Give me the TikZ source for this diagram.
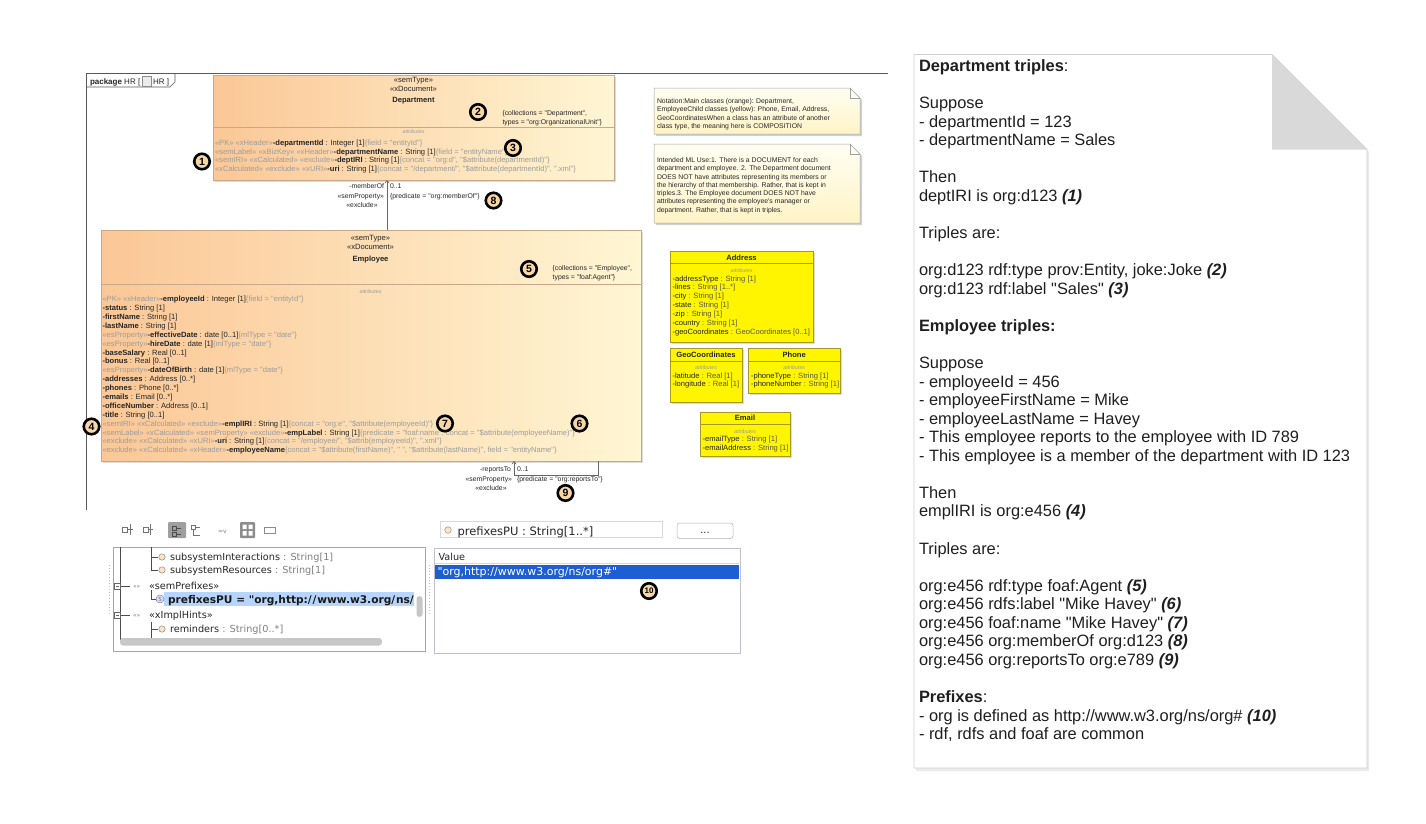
\documentclass[tikz,border=0pt]{standalone}
\usepackage{fontspec}
\setmainfont{Liberation Sans}[Ligatures=TeXOff]
\newfontfamily\uifont{DejaVu Sans}[Ligatures=TeXOff]
\usetikzlibrary{arrows.meta,shadows}
\definecolor{orgL}{HTML}{FBC796}
\definecolor{orgR}{HTML}{FFF6D4}
\definecolor{orgbd}{HTML}{C8A888}
\definecolor{stg}{HTML}{9C9C9C}
\definecolor{dk}{HTML}{262626}
\definecolor{tyc}{HTML}{5A5A40}
\definecolor{ylw}{HTML}{FFF500}
\definecolor{ylwb}{HTML}{A89A20}
\definecolor{noteT}{HTML}{FFFEF2}
\definecolor{noteB}{HTML}{FFF3C6}
\definecolor{notebd}{HTML}{A0A0A0}
\definecolor{numf}{HTML}{F7D7A8}
\definecolor{selblue}{HTML}{1D5ED3}
\definecolor{hlblue}{HTML}{B7D4FA}
\definecolor{pgbd}{HTML}{CFCFCF}
\definecolor{fold}{HTML}{D9D9D9}
\newcommand{\sg}[1]{\textcolor{stg}{#1}}
\newcommand{\nm}[1]{\textbf{#1}}
\newcommand{\ty}[1]{\textcolor{tyc}{#1}}
\newcommand{\bi}[1]{\textbf{\textit{#1}}}
\newcommand{\dsz}{\fontsize{6.85}{8.88}\selectfont}
\newcommand{\asz}{\fontsize{7.6}{8.88}\selectfont}
\newcommand{\rl}[3]{\node[rtext] (#1) at (919,{71.5+#2*18.56}) {#3};}
\begin{document}
\begin{tikzpicture}[x=1pt,y=-1pt,
  every node/.style={inner sep=0pt, outer sep=0pt},
  atext/.style={anchor=base west, font=\dsz, text=dk},
  altext/.style={anchor=base west, font=\asz, text=dk},
  ctext/.style={anchor=base, font=\dsz, text=dk},
  hctext/.style={anchor=base, font=\asz, text=dk},
  etext/.style={anchor=base east, font=\dsz, text=dk},
  attrlbl/.style={anchor=base, font=\fontsize{5.3}{6}\selectfont\itshape, text=stg},
  orgbox/.style={draw=orgbd, line width=0.5pt, left color=orgL, right color=orgR,
     drop shadow={shadow xshift=1.6pt, shadow yshift=-1.6pt, opacity=0.28}, anchor=north west},
  yelbox/.style={draw=ylwb, line width=0.5pt, fill=ylw,
     drop shadow={shadow xshift=1.6pt, shadow yshift=-1.6pt, opacity=0.28}, anchor=north west},
  divl/.style={draw=orgbd, line width=0.5pt},
  ydiv/.style={draw=ylwb, line width=0.5pt},
  frame/.style={draw=black!65, line width=0.6pt},
  assoc/.style={draw=black!60, line width=0.6pt},
  num/.style={circle, draw=black, line width=2.6pt, fill=numf, inner sep=0pt,
     minimum size=15.5pt, font=\fontsize{10.5}{10.5}\selectfont\bfseries},
  notest/.style={draw=notebd, line width=0.5pt, top color=noteT, bottom color=noteB},
  ntext/.style={anchor=base west, font=\fontsize{6.85}{8}\selectfont, text=dk},
  ytitle/.style={anchor=base, font=\fontsize{7.6}{8}\selectfont\bfseries, text=dk},
  ui/.style={anchor=base west, font=\uifont\fontsize{9.7}{11}\selectfont, text=black!85},
  uib/.style={anchor=base west, font=\uifont\bfseries\fontsize{10.6}{11}\selectfont, text=black!90},
  uig/.style={anchor=base west, font=\uifont\fontsize{6}{7}\selectfont, text=black!50},
  tree/.style={draw=black!70, line width=0.6pt},
  rtext/.style={anchor=base west, font=\fontsize{16.4}{18.56}\selectfont, text=black!88}
]
\useasboundingbox (0,0) rectangle (1426,823);
\fill[white] (0,0) rectangle (1426,823);

% ---------------- package frame
\draw[frame] (86,510) -- (86,73.5) -- (888,73.5);
\draw[frame] (86,87) -- (170,87) -- (175,82) -- (175,73.5);
\node[anchor=base west, font=\fontsize{8}{9}\selectfont, text=dk] (pk1) at (90,84) {\textbf{package} HR [};
\node[draw=black!45, fill=black!8, line width=0.4pt, minimum width=9.5pt, minimum height=9.5pt, anchor=west] (pkicon) at ([xshift=1.5pt,yshift=2.6pt]pk1.base east) {};
\node[anchor=base west, font=\fontsize{8}{9}\selectfont, text=dk] (pk2) at ([xshift=1.8pt]pkicon.east |- pk1.base) {HR ]};

% ---------------- Department
\node[orgbox, minimum width=401pt, minimum height=105pt] (dept) at (213,75) {};
\draw[divl] (213,127) -- (614,127);
\node[hctext] (d_s1) at (413.5,82.3) {«semType»};
\node[hctext] (d_s2) at (413.5,91.3) {«xDocument»};
\node[hctext, font=\fontsize{7.6}{8}\selectfont\bfseries] (d_nm) at (413.5,102) {Department};
\node[atext] (d_tv1) at (502.5,115.5) {\{collections = "Department",};
\node[atext] (d_tv2) at (502.5,124.2) {types = "org:OrganizationalUnit"\}};
\node[attrlbl] (d_al) at (413.5,133) {attributes};
\foreach \t [count=\i from 0] in {
 {\sg{«PK» «xHeader»}\nm{-departmentId} : Integer [1]\sg{\{field = "entityId"\}}},
 {\sg{«semLabel» «xBizKey» «xHeader»}\nm{-departmentName} : String [1]\sg{\{field = "entityName"\}}},
 {\sg{«semIRI» «xCalculated» «exclude»}\nm{-deptIRI} : String [1]\sg{\{concat = "org:d", "\$attribute(departmentId)"\}}},
 {\sg{«xCalculated» «exclude» «xURI»}\nm{-uri} : String [1]\sg{\{concat = "/department/", "\$attribute(departmentId)", ".xml"\}}}
}{
 \node[altext] (da\i) at (215,{145.3+\i*8.7}) {\t};
}

% ---------------- Employee
\node[orgbox, minimum width=540pt, minimum height=231pt] (emp) at (101,230) {};
\draw[divl] (101,284.5) -- (641,284.5);
\node[hctext] (e_s1) at (370.5,240.3) {«semType»};
\node[hctext] (e_s2) at (370.5,249.3) {«xDocument»};
\node[hctext, font=\fontsize{7.6}{8}\selectfont\bfseries] (e_nm) at (370.5,261) {Employee};
\node[atext] (e_tv1) at (552.7,270.5) {\{collections = "Employee",};
\node[atext] (e_tv2) at (552.7,279.5) {types = "foaf:Agent"\}};
\node[attrlbl] (e_al) at (370.5,293.5) {attributes};
\foreach \t [count=\i from 0] in {
 {\sg{«PK» «xHeader»}\nm{-employeeId} : Integer [1]\sg{\{field = "entityId"\}}},
 {\nm{-status} : String [1]},
 {\nm{-firstName} : String [1]},
 {\nm{-lastName} : String [1]},
 {\sg{«esProperty»}\nm{-effectiveDate} : date [0..1]\sg{\{mlType = "date"\}}},
 {\sg{«esProperty»}\nm{-hireDate} : date [1]\sg{\{mlType = "date"\}}},
 {\nm{-baseSalary} : Real [0..1]},
 {\nm{-bonus} : Real [0..1]},
 {\sg{«esProperty»}\nm{-dateOfBirth} : date [1]\sg{\{mlType = "date"\}}},
 {\nm{-addresses} : Address [0..*]},
 {\nm{-phones} : Phone [0..*]},
 {\nm{-emails} : Email [0..*]},
 {\nm{-officeNumber} : Address [0..1]},
 {\nm{-title} : String [0..1]},
 {\sg{«semIRI» «xCalculated» «exclude»}\nm{-emplIRI} : String [1]\sg{\{concat = "org:e", "\$attribute(employeeId)"\}}},
 {\sg{«semLabel» «xCalculated» «semProperty» «exclude»}\nm{-empLabel} : String [1]\sg{\{predicate = "foaf:name", concat = "\$attribute(employeeName)"\}}},
 {\sg{«exclude» «xCalculated» «xURI»}\nm{-uri} : String [1]\sg{\{concat = "/employee/", "\$attrib(employeeId)", ".xml"\}}},
 {\sg{«exclude» «xCalculated» «xHeader»}\nm{-employeeName}\sg{\{concat = "\$attribute(firstName)", " ", "\$attribute(lastName)", field = "entityName"\}}}
}{
 \node[altext] (ea\i) at (102.5,{301.8+\i*8.88}) {\t};
}

% ---------------- associations
\draw[assoc, -{Straight Barb[length=2.8pt,width=4.5pt]}] ([xshift=286pt]emp.north west) -- ([xshift=174pt]dept.south west);
\node[etext] (m_r) at (384,188) {-memberOf};
\node[atext] (m_m) at (390,188) {0..1};
\node[etext] (m_s) at (384,198.5) {«semProperty»};
\node[atext] (m_p) at (390,198.5) {\{predicate = "org:memberOf"\}};
\node[ctext] (m_e) at (362,207.5) {«exclude»};

\draw[assoc, -{Straight Barb[length=2.8pt,width=4.5pt]}] ([xshift=-43pt]emp.south east) -- ++(0,14.5) -| ([xshift=-127pt]emp.south east);
\node[etext] (r_r) at (511,471) {-reportsTo};
\node[atext] (r_m) at (517,471) {0..1};
\node[etext] (r_s) at (512,481.5) {«semProperty»};
\node[atext] (r_p) at (517,481.5) {\{predicate = "org:reportsTo"\}};
\node[ctext] (r_e) at (491,490) {«exclude»};

% ---------------- notes
\fill[black, opacity=0.18] (656,90) -- (852,90) -- (862,100) -- (862,136) -- (656,136) -- cycle;
\path[notest] (654,88) -- (850,88) -- (860,98) -- (860,134) -- (654,134) -- cycle;
\draw[draw=notebd, line width=0.5pt] (850,88) -- (850,98) -- (860,98);
\node[ntext] (n1a) at (657,103) {Notation:Main classes (orange): Department,};
\node[ntext] (n1b) at (657,111.6) {EmployeeChild classes (yellow): Phone, Email, Address,};
\node[ntext] (n1c) at (657,120.2) {GeoCoordinatesWhen a class has an attribute of another};
\node[ntext] (n1d) at (657,128.8) {class type, the meaning here is COMPOSITION};

\fill[black, opacity=0.18] (656,146) -- (852,146) -- (862,156) -- (862,225) -- (656,225) -- cycle;
\path[notest] (654,144) -- (850,144) -- (860,154) -- (860,223) -- (654,223) -- cycle;
\draw[draw=notebd, line width=0.5pt] (850,144) -- (850,154) -- (860,154);
\foreach \t [count=\i from 0] in {
 {Intended ML Use:1. There is a DOCUMENT for each},
 {department and employee. 2. The Department document},
 {DOES NOT have attributes representing its members or},
 {the hierarchy of that membership. Rather, that is kept in},
 {triples.3. The Employee document DOES NOT have},
 {attributes representing the employee's manager or},
 {department. Rather, that is kept in triples.}
}{
 \node[ntext] (n2\i) at (657,{162.5+\i*8.25}) {\t};
}

% ---------------- yellow classes
\node[yelbox, minimum width=143pt, minimum height=91pt] (addr) at (670,251) {};
\draw[ydiv] (670,263.5) -- (813,263.5);
\node[ytitle] (addr_t) at (741.5,260.2) {Address};
\node[attrlbl] (addr_al) at (741.5,272) {attributes};
\foreach \t [count=\i from 0] in {
 {-addressType \ty{: String [1]}},
 {-lines \ty{: String [1..*]}},
 {-city \ty{: String [1]}},
 {-state \ty{: String [1]}},
 {-zip \ty{: String [1]}},
 {-country \ty{: String [1]}},
 {-geoCoordinates \ty{: GeoCoordinates [0..1]}}
}{
 \node[altext] (aa\i) at (672.5,{281+\i*8.95}) {\t};
}

\node[yelbox, minimum width=72pt, minimum height=53.5pt] (geo) at (670,348.5) {};
\draw[ydiv] (670,361) -- (742,361);
\node[ytitle] (geo_t) at (706,357.3) {GeoCoordinates};
\node[attrlbl] (geo_al) at (706,369.5) {attributes};
\node[altext] (ga0) at (672.5,378.2) {-latitude \ty{: Real [1]}};
\node[altext] (ga1) at (672.5,386.9) {-longitude \ty{: Real [1]}};

\node[yelbox, minimum width=91.5pt, minimum height=45pt] (phone) at (748.5,348.5) {};
\draw[ydiv] (748.5,361) -- (840,361);
\node[ytitle] (ph_t) at (794.2,357.3) {Phone};
\node[attrlbl] (ph_al) at (794.2,369.5) {attributes};
\node[altext] (pa0) at (751,378.2) {-phoneType \ty{: String [1]}};
\node[altext] (pa1) at (751,386.9) {-phoneNumber \ty{: String [1]}};

\node[yelbox, minimum width=90pt, minimum height=44pt] (email) at (700,412) {};
\draw[ydiv] (700,424.5) -- (790,424.5);
\node[ytitle] (em_t) at (745,420.8) {Email};
\node[attrlbl] (em_al) at (745,433) {attributes};
\node[altext] (ma0) at (702.5,441.6) {-emailType \ty{: String [1]}};
\node[altext] (ma1) at (702.5,450.3) {-emailAddress \ty{: String [1]}};

% ---------------- screenshot panel
\draw[black!55, line width=0.5pt] (122,527) rectangle (127,532) (127,529.5) -- (133,529.5) (130,524) -- (130,535);
\draw[black!55, line width=0.5pt] (143,527) rectangle (148,532) (148,529.5) -- (153,529.5) (150.5,524) -- (150.5,535);
\fill[black!38, rounded corners=1pt] (168,522) rectangle (186,538);
\draw[black!70, line width=0.5pt] (172,526) rectangle (176,530) (172,532) rectangle (176,536) (176,528) -- (181,528) (176,534) -- (181,534);
\draw[black!55, line width=0.5pt] (191,525) rectangle (195,529) (195,527) -- (200,527) (193,529) -- (193,535) -- (200,535);
\node[uig] (tb_v) at (218,533) {=v};
\fill[black!45, rounded corners=1pt] (240,522) rectangle (255,538);
\fill[white] (242.5,524.5) rectangle (246.5,529) (248.5,524.5) rectangle (252.5,529) (242.5,531) rectangle (246.5,535.5) (248.5,531) rectangle (252.5,535.5);
\draw[black!45, line width=0.5pt] (264,527) rectangle (275,533);

\draw[black!15, fill=white, line width=0.5pt] (440,521) rectangle (662,537);
\begin{scope}
\clip (440,523.5) rectangle (662,540);
\draw[black!50, fill=numf!60, line width=0.4pt] (448,530) circle (3.3pt);
\node[ui, font=\uifont\fontsize{11.5}{12}\selectfont] (pf) at (457.5,535) {prefixesPU : String[1..*]};
\end{scope}
\draw[black!30, fill=white, rounded corners=2.5pt, line width=0.5pt] (677,523) rectangle (733,538.5);
\node[ui, anchor=base] (btn) at (705,533) {...};

\draw[black!35, line width=0.5pt] (113,547) rectangle (425,651);
\draw[black!25, dotted, line width=1pt] (109.5,565) -- (109.5,615);
\draw[black!25, dotted, line width=1pt] (429.5,565) -- (429.5,615);
\draw[tree] (120,547) -- (120,640);
\draw[tree] (151,547) -- (151,570) -- (158,570) (151,557) -- (158,557);
\draw[black!60, fill=white, line width=0.5pt] (114.5,583) rectangle (120.5,589) (116,586) -- (119,586);
\draw[tree] (120.5,586) -- (130,586);
\draw[black!60, fill=white, line width=0.5pt] (114.5,612) rectangle (120.5,618) (116,615) -- (119,615);
\draw[tree] (120.5,615) -- (130,615);
\draw[tree] (151,590) -- (151,599) -- (158,599);
\draw[tree] (151,622) -- (151,640) (151,629) -- (158,629);
\fill[hlblue] (164,592) rectangle (414,606);
\draw[draw=black!45, fill=numf!70, line width=0.5pt] (162,557) circle (3.2pt);
\draw[draw=black!45, fill=numf!70, line width=0.5pt] (162,570) circle (3.2pt);
\draw[draw=black!45, fill=numf!70, line width=0.5pt] (162,629) circle (3.2pt);
\node[ui] (t1) at (170,560.5) {subsystemInteractions \textcolor{black!50}{: String[1]}};
\node[ui] (t2) at (170,573.5) {subsystemResources \textcolor{black!50}{: String[1]}};
\node[uig] (t3a) at (133,588) {«»};
\node[ui] (t3) at (149,589.3) {«semPrefixes»};
\node[circle, draw=black!50, fill=blue!12, line width=0.5pt, minimum size=8pt, font=\uifont\fontsize{5.5}{6}\selectfont, text=black!60] (sicon) at (160,599) {S};
\begin{scope}
\clip (164,590) rectangle (414,608);
\node[uib] (t4) at (168,603) {prefixesPU = "org,http:/\kern0.8pt/\kern0.8pt www.w3.org/\kern0.8pt ns/\kern0.8pt org\#"};
\end{scope}
\node[uig] (t5a) at (133,617) {«»};
\node[ui] (t5) at (149,618.3) {«xImplHints»};
\node[ui] (t6) at (170,632.5) {reminders \textcolor{black!50}{: String[0..*]}};
\fill[black!22, rounded corners=3pt] (120,638) rectangle (382,645.5);
\fill[black!22, rounded corners=3pt] (416.5,596) rectangle (422.5,617);

\draw[draw=blue!25!black!25, line width=0.6pt] (434,548) rectangle (740,653);
\draw[black!15, line width=0.5pt] (435,563) -- (739,563);
\node[ui] (vh) at (438.5,560.3) {Value};
\fill[selblue] (435,565) rectangle (738.5,578.5);
\node[ui, text=white, font=\uifont\fontsize{11}{12}\selectfont] (vv) at (437.5,575.8) {"org,http://www.w3.org/ns/org\#"};

% ---------------- circled numbers
\node[num] (c1) at (202,161.5) {1};
\node[num] (c2) at (478,112) {2};
\node[num] (c3) at (513,148) {3};
\node[num] (c4) at (91.5,426.5) {4};
\node[num] (c5) at (529,269) {5};
\node[num] (c6) at (579.5,423.5) {6};
\node[num] (c7) at (445,423.5) {7};
\node[num] (c8) at (493.5,200.5) {8};
\node[num] (c9) at (565.5,493) {9};
\node[num, font=\fontsize{8}{8}\selectfont\bfseries] (c10) at (649,591) {10};

% ---------------- right page
\fill[black, opacity=0.08] (916,57) -- (1274,57) -- (1369,152) -- (1369,771) -- (916,771) -- cycle;
\draw[pgbd, fill=white, line width=0.8pt] (914,54.5) -- (1272,54.5) -- (1367,149.5) -- (1367,768) -- (914,768) -- cycle;
\fill[fold] (1272,54.5) -- (1272,149.5) -- (1367,149.5) -- cycle;
\rl{r0}{0}{\textbf{Department triples}:}
\rl{r2}{2}{Suppose}
\rl{r3}{3}{- departmentId = 123}
\rl{r4}{4}{- departmentName = Sales}
\rl{r6}{6}{Then}
\rl{r7}{7}{deptIRI is org:d123 \bi{(1)}}
\rl{r9}{9}{Triples are:}
\rl{r11}{11}{org:d123 rdf:type prov:Entity, joke:Joke \bi{(2)}}
\rl{r12}{12}{org:d123 rdf:label "Sales" \bi{(3)}}
\rl{r14}{14}{\textbf{Employee triples:}}
\rl{r16}{16}{Suppose}
\rl{r17}{17}{- employeeId = 456}
\rl{r18}{18}{- employeeFirstName = Mike}
\rl{r19}{19}{- employeeLastName = Havey}
\rl{r20}{20}{- This employee reports to the employee with ID 789}
\rl{r21}{21}{- This employee is a member of the department with ID 123}
\rl{r23}{23}{Then}
\rl{r24}{24}{emplIRI is org:e456 \bi{(4)}}
\rl{r26}{26}{Triples are:}
\rl{r28}{28}{org:e456 rdf:type foaf:Agent \bi{(5)}}
\rl{r29}{29}{org:e456 rdfs:label "Mike Havey" \bi{(6)}}
\rl{r30}{30}{org:e456 foaf:name "Mike Havey" \bi{(7)}}
\rl{r31}{31}{org:e456 org:memberOf org:d123 \bi{(8)}}
\rl{r32}{32}{org:e456 org:reportsTo org:e789 \bi{(9)}}
\rl{r34}{34}{\textbf{Prefixes}:}
\rl{r35}{35}{- org is defined as http://www.w3.org/ns/org\# \bi{(10)}}
\rl{r36}{36}{- rdf, rdfs and foaf are common}
\end{tikzpicture}
\end{document}
